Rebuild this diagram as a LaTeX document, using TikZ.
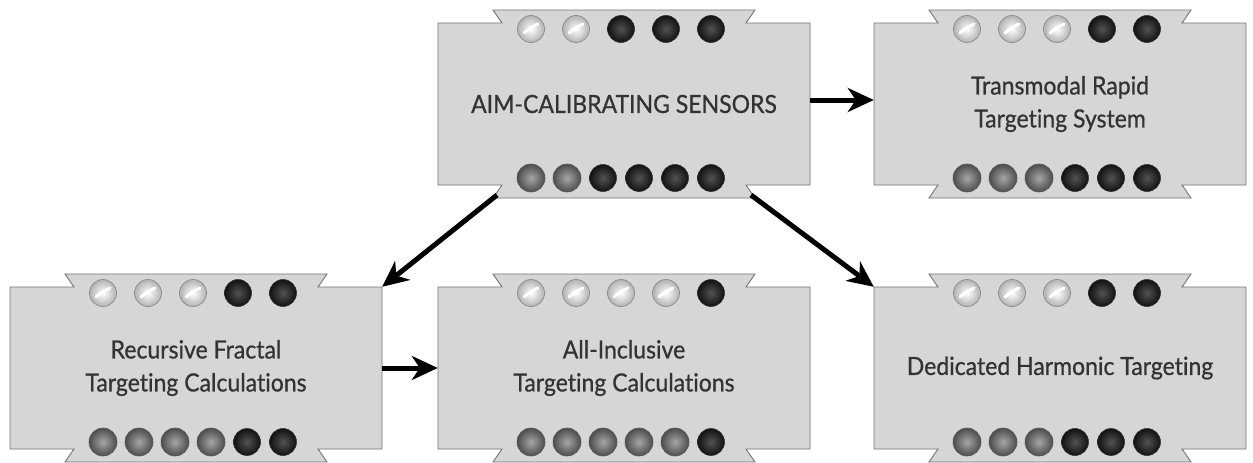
\documentclass[tikz,border=0pt]{standalone}
\usepackage{fontspec}
\setmainfont{Lato}[FakeStretch=0.92, FakeBold=0.7, Ligatures={NoCommon}, RawFeature={-liga;-dlig}]
\usetikzlibrary{calc,arrows.meta}
\tikzset{
  boxshape/.style={fill=black!16, draw=black!55, line width=0.9pt},
  boxnode/.style={rectangle, minimum width=372pt, minimum height=162pt, inner sep=0pt,
    align=center, text=black!80, font=\fontsize{25}{33}\selectfont},
  conn/.style={line width=5pt, black, -{Stealth[length=26pt,width=24pt,inset=8pt]}},
}
\newcommand\lightdot[2]{%
  \shade[inner color=white, outer color=black!30, draw=black!45, line width=0.7pt] (#1,#2) circle (13.5pt);
  \draw[white, line width=3pt, line cap=round] (#1-7,#2+4) .. controls (#1-1,#2-1) .. (#1+7,#2-5);
}
\newcommand\darkdot[2]{%
  \shade[inner color=black!68, outer color=black!93, draw=black!80, line width=0.6pt] (#1,#2) circle (13.5pt);
}
\newcommand\meddot[2]{%
  \shade[inner color=black!35, outer color=black!70, draw=black!65, line width=0.6pt] (#1,#2) circle (14pt);
}
\newcommand\techbox[6]{%
  \begin{scope}[shift={(#2,#3)}]
    \draw[boxshape] (-186,-81) -- (-122,-81) -- (-131,-94) -- (131,-94) -- (122,-81) -- (186,-81)
      -- (186,81) -- (122,81) -- (131,94) -- (-131,94) -- (-122,81) -- (-186,81) -- cycle;
    \node[boxnode] (#1) at (0,0) {#4};
    \coordinate (#1-bl) at (-127,91);
    \coordinate (#1-br) at (127,91);
    \foreach \i in {1,...,5}{%
      \pgfmathsetmacro\xx{(\i-3)*45-3}
      \ifnum\i>#5 \darkdot{\xx}{-75}\else\lightdot{\xx}{-75}\fi
    }
    \foreach \i in {1,...,6}{%
      \pgfmathsetmacro\xx{(\i-3.5)*36-3}
      \ifnum\i>#6 \darkdot{\xx}{74}\else\meddot{\xx}{74}\fi
    }
  \end{scope}
}
\begin{document}
\begin{tikzpicture}[x=1pt,y=-1pt]
  \useasboundingbox[fill=white] (0,0) rectangle (1253,463);
  \techbox{A}{624}{104}{AIM-CALIBRATING SENSORS}{2}{2}
  \techbox{B}{1060}{104}{Transmodal Rapid\\Targeting System}{3}{3}
  \techbox{C}{196}{368}{Recursive Fractal\\Targeting Calculations}{3}{4}
  \techbox{E}{624}{368}{All-Inclusive\\Targeting Calculations}{4}{5}
  \techbox{D}{1060}{368}{Dedicated Harmonic Targeting}{3}{3}
  \draw[conn] ([yshift=4pt]A.east) -- ([yshift=4pt]B.west);
  \draw[conn] (A-bl) -- (C.north east);
  \draw[conn] (A-br) -- (D.north west);
  \draw[conn] (C.east) -- (E.west);
\end{tikzpicture}
\end{document}
